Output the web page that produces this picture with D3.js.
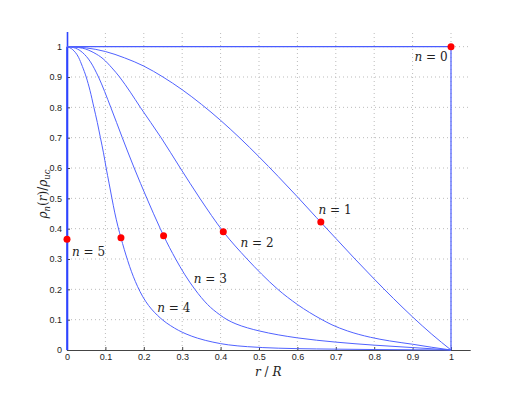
<!DOCTYPE html>
<html>
<head>
<meta charset="utf-8">
<script src="https://cdn.jsdelivr.net/npm/d3@7"></script>
<style>
body { margin: 0; background: #fff; }
.tick text { font-family: "Liberation Sans", Arial, sans-serif; font-size: 9px; fill: #222; }
.lbl { font-family: "DejaVu Serif", "Liberation Serif", serif; font-size: 12px; fill: #222; }
</style>
</head>
<body>
<svg id="chart" width="523" height="393"></svg>
<script>
// values (r/R, rho/rho_c)
var tickVals = [0, 0.1, 0.2, 0.3, 0.4, 0.5, 0.6, 0.7, 0.8, 0.9, 1];
var tickLabels = ["0", "0.1", "0.2", "0.3", "0.4", "0.5", "0.6", "0.7", "0.8", "0.9", "1"];

var n0 = [[0, 1], [1, 1], [1, 0]];
var n1 = [[0, 1], [0.05, 0.996], [0.1, 0.984], [0.15, 0.963], [0.2, 0.936], [0.25, 0.900],
  [0.3, 0.858], [0.35, 0.810], [0.4, 0.757], [0.45, 0.699], [0.5, 0.637], [0.55, 0.572],
  [0.6, 0.505], [0.65, 0.436], [0.7, 0.368], [0.75, 0.300], [0.8, 0.234], [0.85, 0.170],
  [0.9, 0.109], [0.95, 0.052], [1, 0]];
var n2 = [[0, 1], [0.04, 0.995], [0.07, 0.98], [0.094, 0.96], [0.117, 0.93], [0.137, 0.9],
  [0.165, 0.85], [0.191, 0.8], [0.245, 0.7], [0.295, 0.6], [0.346, 0.5], [0.407, 0.39],
  [0.469, 0.3], [0.507, 0.25], [0.549, 0.2], [0.6, 0.15], [0.664, 0.1], [0.69, 0.083],
  [0.73, 0.063], [0.79, 0.042], [0.84, 0.03], [0.9, 0.019], [0.95, 0.009], [1, 0]];
var n3 = [[0, 1], [0.022, 0.995], [0.041, 0.98], [0.061, 0.95], [0.082, 0.9], [0.114, 0.8],
  [0.144, 0.7], [0.175, 0.6], [0.208, 0.5], [0.243, 0.4], [0.2515, 0.377], [0.283, 0.3],
  [0.306, 0.25], [0.333, 0.2], [0.366, 0.15], [0.398, 0.116], [0.417, 0.1], [0.44, 0.086],
  [0.47, 0.073], [0.5, 0.063], [0.55, 0.05], [0.6, 0.04], [0.7, 0.026], [0.8, 0.016],
  [0.9, 0.008], [1, 0]];
var n4 = [[0, 1], [0.015, 0.99], [0.03, 0.965], [0.04, 0.935], [0.05, 0.9], [0.06, 0.855],
  [0.07, 0.8], [0.079, 0.75], [0.087, 0.7], [0.095, 0.65], [0.102, 0.6], [0.1095, 0.55],
  [0.117, 0.5], [0.1245, 0.452], [0.1325, 0.408], [0.1405, 0.37], [0.149, 0.332], [0.158, 0.295],
  [0.168, 0.258], [0.178, 0.226], [0.19, 0.193], [0.205, 0.16], [0.22, 0.135], [0.235, 0.115],
  [0.25, 0.098], [0.27, 0.08], [0.29, 0.065], [0.31, 0.053], [0.34, 0.039], [0.38, 0.026],
  [0.42, 0.017], [0.47, 0.011], [0.55, 0.006], [0.65, 0.0035], [0.8, 0.0015], [1, 0]];
var n5 = [[0, 1], [0, 0]];

var dotR = [1, 0.661, 0.407, 0.2515, 0.1405, 0];
var dotRho = [1, 0.422, 0.39, 0.377, 0.37, 0.365];

var labelText = ["0", "1", "2", "3", "4", "5"];
var labelPos = [[0.905, 0.953], [0.655, 0.45], [0.452, 0.34], [0.33, 0.22], [0.235, 0.125], [0.013, 0.31]];

var svg = d3.select("#chart");
var x = d3.scaleLinear().domain([0, 1.05]).range([67, 470.2]);
var y = d3.scaleLinear().domain([0, 1.05]).range([350, 31.5]);

// grid
svg.append("g").selectAll("line").data(tickVals.slice(1)).enter().append("line")
  .attr("x1", x(0)).attr("x2", x(1.05))
  .attr("y1", function(d) { return y(d); }).attr("y2", function(d) { return y(d); })
  .attr("stroke", "#bbb").attr("stroke-width", 1).attr("stroke-dasharray", "1,3");
svg.append("g").selectAll("line").data(tickVals.slice(1)).enter().append("line")
  .attr("y1", y(0)).attr("y2", y(1.05))
  .attr("x1", function(d) { return x(d); }).attr("x2", function(d) { return x(d); })
  .attr("stroke", "#bbb").attr("stroke-width", 1).attr("stroke-dasharray", "1,3");

// axes
var xAxis = d3.axisBottom(x).tickValues(tickVals).tickSizeInner(-3).tickSizeOuter(0).tickPadding(4)
  .tickFormat(function(d, i) { return tickLabels[i]; });
var gx = svg.append("g").attr("transform", "translate(0," + y(0) + ")").call(xAxis);
gx.select(".domain").attr("stroke", "#444");
gx.selectAll(".tick line").attr("stroke", "#444");

var yAxis = d3.axisLeft(y).tickValues(tickVals).tickSizeInner(-3).tickSizeOuter(0).tickPadding(5)
  .tickFormat(function(d, i) { return tickLabels[i]; });
var gy = svg.append("g").attr("transform", "translate(" + x(0) + ",0)").call(yAxis);
gy.select(".domain").attr("stroke", "#2f45ff").attr("stroke-width", 1.6);
gy.selectAll(".tick line").attr("stroke", "#444");

// curves
var line = d3.line().x(function(d) { return x(d[0]); }).y(function(d) { return y(d[1]); });
var smooth = d3.line().x(function(d) { return x(d[0]); }).y(function(d) { return y(d[1]); })
  .curve(d3.curveMonotoneX);

svg.append("path").attr("d", line(n0)).attr("fill", "none").attr("stroke", "#4a5cff").attr("stroke-width", 1.2);
svg.append("path").attr("d", line(n5)).attr("fill", "none").attr("stroke", "#2f45ff").attr("stroke-width", 1.6);
[n1, n2, n3, n4].forEach(function(s) {
  svg.append("path").attr("d", smooth(s)).attr("fill", "none")
    .attr("stroke", "#5062ff").attr("stroke-width", 1);
});

// dots
svg.append("g").selectAll("circle").data(dotR).enter().append("circle")
  .attr("cx", function(d) { return x(d); })
  .attr("cy", function(d, i) { return y(dotRho[i]); })
  .attr("r", 3.5).attr("fill", "#ff0000");

// curve labels
labelText.forEach(function(t, i) {
  var tx = svg.append("text").attr("class", "lbl")
    .attr("x", x(labelPos[i][0])).attr("y", y(labelPos[i][1]));
  tx.append("tspan").attr("font-style", "italic").text("n");
  tx.append("tspan").text(" = " + t);
});

// axis titles
var xt = svg.append("text").attr("class", "lbl").attr("x", 255).attr("y", 376);
xt.append("tspan").attr("font-style", "italic").text("r");
xt.append("tspan").text(" / ");
xt.append("tspan").attr("font-style", "italic").text("R");

var yt = svg.append("text").attr("class", "lbl").attr("text-anchor", "middle")
  .attr("transform", "translate(47,194) rotate(-90)");
yt.append("tspan").attr("font-style", "italic").text("ρ");
yt.append("tspan").attr("font-style", "italic").attr("font-size", "8.5px").attr("dy", 3).text("n");
yt.append("tspan").attr("dy", -3).text("(");
yt.append("tspan").attr("font-style", "italic").text("r");
yt.append("tspan").text(")/");
yt.append("tspan").attr("font-style", "italic").text("ρ");
yt.append("tspan").attr("font-style", "italic").attr("font-size", "8.5px").attr("dy", 3).text("uc");
</script>
</body>
</html>
